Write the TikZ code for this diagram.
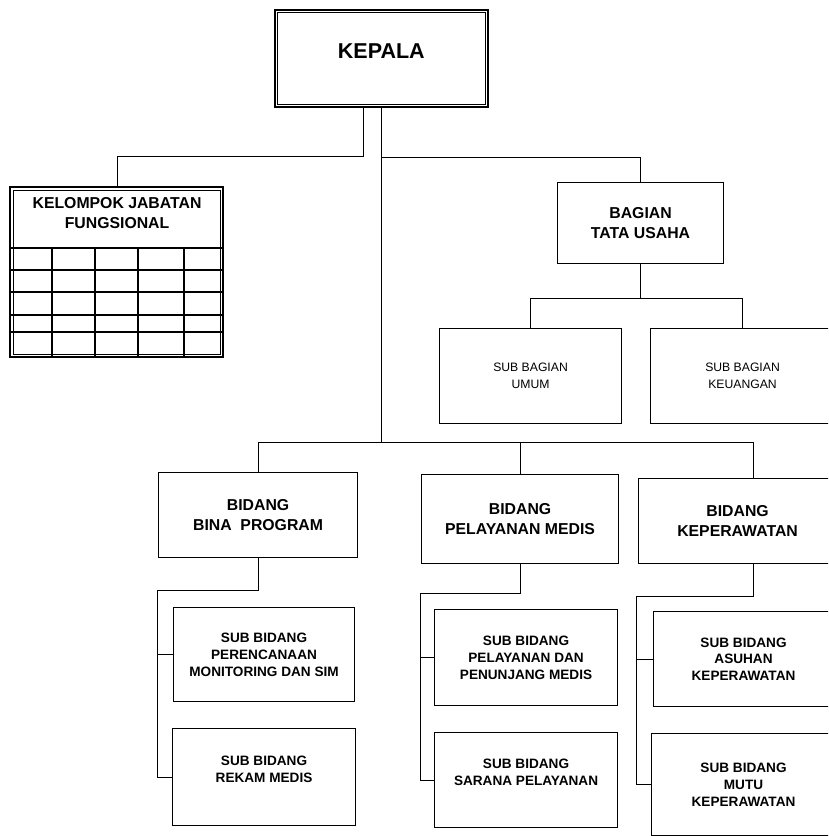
\documentclass[tikz,border=0pt]{standalone}
\usepackage{fontspec}
\setmainfont{Liberation Sans}
\begin{document}
\begin{tikzpicture}
% 1 unit = 1px of the scan, y runs downwards
[x=1pt, y=-1pt, line width=1.1pt,
 box/.style={draw, inner sep=0pt, align=center, anchor=north west},
 outerln/.style={line width=1.7pt},
 innerln/.style={line width=0.7pt},
 bigtext/.style={font=\bfseries\fontsize{15.8}{19.5}\selectfont},
 subtext/.style={font=\bfseries\fontsize{13.6}{16.8}\selectfont},
 bagtext/.style={font=\fontsize{12.2}{17}\selectfont}]
\useasboundingbox (0,0) rectangle (828,836);
\clip (0,0) rectangle (828,836);

% top, double frame = thick outside + thin inside, 3px apart
\node[box, outerln, minimum width=213, minimum height=97, text depth=14pt, font=\bfseries\fontsize{21.5}{24}\selectfont] (kepala) at (274,9) {KEPALA};
\draw[innerln] ([shift={(3,3)}]kepala.north west) rectangle ([shift={(-3,-3)}]kepala.south east);

% kelompok jabatan fungsional: header + 5x5 table
% 213 = 223-10 = table width
\node[inner sep=0pt, align=center, anchor=north west, minimum width=213, minimum height=60, text depth=9pt, bigtext] (kjf) at (10,187) {KELOMPOK JABATAN\\FUNGSIONAL};
\draw[outerln] (kjf.north west) rectangle (223,357);
\draw[innerln] (13,190) rectangle (220,354);
\draw[line width=1.8pt] (kjf.south west) -- (kjf.south east);
\foreach \yy in {270,292,315,332}{
	\draw (10,\yy) -- (223,\yy);}
\foreach \xx in {52,95,138,184}{
	\draw (\xx,247) -- (\xx,357);}

% bagian tata usaha
\node[box, minimum width=166, minimum height=81, bigtext] (bagian) at (557,182) {BAGIAN\\TATA USAHA};
\node[box, minimum width=182, minimum height=95, bagtext] (umum) at (439,328) {SUB BAGIAN\\UMUM};
\node[box, minimum width=184, minimum height=95, bagtext] (keuangan) at (650,328) {SUB BAGIAN\\KEUANGAN};

% bidang
\node[box, minimum width=199, minimum height=85, bigtext] (bina) at (158,472) {BIDANG\\BINA\ \ PROGRAM};
\node[box, minimum width=197, minimum height=89, bigtext] (pm) at (421,474) {BIDANG\\PELAYANAN MEDIS};
% 198 = 2*(737-638), box runs off the page
\node[box, minimum width=198, minimum height=85, bigtext] (kep) at (638,478) {BIDANG\\KEPERAWATAN};

% sub bidang
\node[box, minimum width=181, minimum height=94, subtext] (perencanaan) at (173,607) {SUB BIDANG\\PERENCANAAN\\MONITORING DAN SIM};
\node[box, minimum width=183, minimum height=97, text depth=16pt, subtext] (rekam) at (172,728) {SUB BIDANG\\REKAM MEDIS};
\node[box, minimum width=183, minimum height=96, subtext] (pelayanan) at (434,609) {SUB BIDANG\\PELAYANAN DAN\\PENUNJANG MEDIS};
\node[box, minimum width=183, minimum height=95, text depth=16pt, subtext] (sarana) at (434,732) {SUB BIDANG\\SARANA PELAYANAN};
\node[box, minimum width=180, minimum height=95, subtext] (asuhan) at (653,611) {SUB BIDANG\\ASUHAN\\KEPERAWATAN};
\node[box, minimum width=184, minimum height=102, subtext] (mutu) at (651,733) {SUB BIDANG\\MUTU\\KEPERAWATAN};

% lines
% 17.5 = 380.5-363
\draw ([xshift=-17.5pt]kepala.south) -- ++(0,49) -| (kjf.north);
\draw (kepala.south) -- ++(0,335) coordinate (tbawah);
\draw (kepala.south) ++(0,50) -| (bagian.north);
\draw (bagian.south) -- ++(0,34) coordinate (bbawah);
\draw (umum.north) |- (bbawah) -| (keuangan.north);
\draw (bina.north) |- (tbawah) -| ([xshift=16pt]kep.north);
\draw (pm.north) -- (pm.north |- tbawah);

\draw (bina.south) -- ++(0,32) -- ++(-100.5,0) coordinate (bkiri) |- (rekam.west);
\draw (perencanaan.west) -- (perencanaan.west -| bkiri);
\draw (pm.south) -- ++(0,29) -- ++(-99.5,0) coordinate (pkiri) |- (sarana.west);
\draw (pelayanan.west) -- (pelayanan.west -| pkiri);
\draw ([xshift=16pt]kep.south) -- ++(0,32) -- ++(-117,0) coordinate (kkiri) |- (mutu.west);
\draw (asuhan.west) -- (asuhan.west -| kkiri);
\end{tikzpicture}
\end{document}
